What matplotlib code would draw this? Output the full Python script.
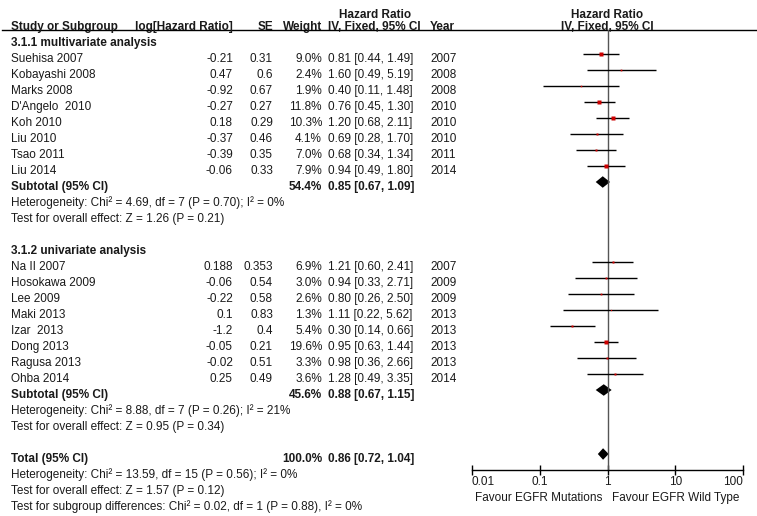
import matplotlib
matplotlib.use("Agg")
import matplotlib.pyplot as plt
import numpy as np

plt.rcParams['font.family'] = ['Liberation Sans', 'DejaVu Sans']

# --- data ---
studies1 = ["Suehisa 2007", "Kobayashi 2008", "Marks 2008", "D'Angelo  2010",
            "Koh 2010", "Liu 2010", "Tsao 2011", "Liu 2014"]
loghr1 = [-0.21, 0.47, -0.92, -0.27, 0.18, -0.37, -0.39, -0.06]
se1 = [0.31, 0.6, 0.67, 0.27, 0.29, 0.46, 0.35, 0.33]
weight1 = [9.0, 2.4, 1.9, 11.8, 10.3, 4.1, 7.0, 7.9]
hr1 = [0.81, 1.60, 0.40, 0.76, 1.20, 0.69, 0.68, 0.94]
lo1 = [0.44, 0.49, 0.11, 0.45, 0.68, 0.28, 0.34, 0.49]
hi1 = [1.49, 5.19, 1.48, 1.30, 2.11, 1.70, 1.34, 1.80]
year1 = [2007, 2008, 2008, 2010, 2010, 2010, 2011, 2014]

studies2 = ["Na II 2007", "Hosokawa 2009", "Lee 2009", "Maki 2013",
            "Izar  2013", "Dong 2013", "Ragusa 2013", "Ohba 2014"]
loghr2 = [0.188, -0.06, -0.22, 0.1, -1.2, -0.05, -0.02, 0.25]
se2 = [0.353, 0.54, 0.58, 0.83, 0.4, 0.21, 0.51, 0.49]
weight2 = [6.9, 3.0, 2.6, 1.3, 5.4, 19.6, 3.3, 3.6]
hr2 = [1.21, 0.94, 0.80, 1.11, 0.30, 0.95, 0.98, 1.28]
lo2 = [0.60, 0.33, 0.26, 0.22, 0.14, 0.63, 0.36, 0.49]
hi2 = [2.41, 2.71, 2.50, 5.62, 0.66, 1.44, 2.66, 3.35]
year2 = [2007, 2009, 2009, 2013, 2013, 2013, 2013, 2014]

# pooled estimates: weight, HR, lower, upper
sub1 = (54.4, 0.85, 0.67, 1.09)
sub2 = (45.6, 0.88, 0.67, 1.15)
total = (100.0, 0.86, 0.72, 1.04)

group_titles = ["3.1.1 multivariate analysis", "3.1.2 univariate analysis"]
stats1 = ["Heterogeneity: Chi\u00b2 = 4.69, df = 7 (P = 0.70); I\u00b2 = 0%",
          "Test for overall effect: Z = 1.26 (P = 0.21)"]
stats2 = ["Heterogeneity: Chi\u00b2 = 8.88, df = 7 (P = 0.26); I\u00b2 = 21%",
          "Test for overall effect: Z = 0.95 (P = 0.34)"]
stats_total = ["Heterogeneity: Chi\u00b2 = 13.59, df = 15 (P = 0.56); I\u00b2 = 0%",
               "Test for overall effect: Z = 1.57 (P = 0.12)",
               "Test for subgroup differences: Chi\u00b2 = 0.02, df = 1 (P = 0.88), I\u00b2 = 0%"]

xticks = [0.01, 0.1, 1, 10, 100]
favour_left = "Favour EGFR Mutations"
favour_right = "Favour EGFR Wild Type"

# --- layout (pixels) ---
W, H = 757, 516
ROW0, STEP = 38, 16          # pixel y of first row, row spacing
TXT = 5 / STEP               # text sits a bit below the marker line
FS = 8.5
INK = "#1a1a1a"
RED = "#cc0000"

fig = plt.figure(figsize=(W / 100, H / 100), dpi=100)
tab = fig.add_axes([0, 0, 1, 1])
tab.set_xlim(0, W)
tab.set_ylim((H - ROW0) / STEP, -ROW0 / STEP)
tab.axis("off")

px_l, px_r, px_t, px_b = 472, 743, 30, 470
ax = fig.add_axes([px_l / W, 1 - px_b / H, (px_r - px_l) / W, (px_b - px_t) / H])
ax.set_xscale("log")
ax.set_xlim(0.01, 100)
ax.set_ylim((px_b - ROW0) / STEP, (px_t - ROW0) / STEP)
ax.patch.set_alpha(0)
for s in ["top", "left", "right"]:
    ax.spines[s].set_visible(False)
ax.spines["bottom"].set_linewidth(1)
ax.set_yticks([])
ax.set_xticks(xticks)
ax.set_xticklabels(["0.01", "0.1", "1", "10", "100"], fontsize=FS, color=INK)
ax.minorticks_off()
ax.tick_params(axis="x", direction="inout", length=7, width=1, pad=1)
labs = ax.get_xticklabels()
labs[0].set_ha("left")
labs[-1].set_ha("right")
ax.axvline(1, color="#555555", lw=1)

# header
COL_NAME, COL_LOG, COL_SE, COL_W, COL_CI, COL_YR = 11, 233, 273, 322, 328, 430
hy1, hy2 = (15 - ROW0) / STEP, (27 - ROW0) / STEP
tab.plot([2, W], [(30 - ROW0) / STEP] * 2, color="black", lw=1)
bold = dict(fontsize=FS, color=INK, fontweight="bold", va="center")
tab.text(COL_NAME, hy2, "Study or Subgroup", ha="left", **bold)
tab.text(COL_LOG, hy2, "log[Hazard Ratio]", ha="right", **bold)
tab.text(COL_SE, hy2, "SE", ha="right", **bold)
tab.text(COL_W, hy2, "Weight", ha="right", **bold)
tab.text(COL_CI, hy2, "IV, Fixed, 95% CI", ha="left", **bold)
tab.text(375, hy1, "Hazard Ratio", ha="center", **bold)
tab.text(COL_YR, hy2, "Year", ha="left", **bold)
tab.text(607, hy1, "Hazard Ratio", ha="center", **bold)
tab.text(607, hy2, "IV, Fixed, 95% CI", ha="center", **bold)

norm = dict(fontsize=FS, color=INK, va="center")


def draw_group(r0, title, names, lg, se, w, hr, lo, hi, yr, sub, stats):
    tab.text(COL_NAME, r0 + TXT, title, ha="left", **bold)
    for i in range(len(names)):
        r = r0 + 1 + i
        y = r + TXT
        tab.text(COL_NAME, y, names[i], ha="left", **norm)
        tab.text(COL_LOG, y, str(lg[i]), ha="right", **norm)
        tab.text(COL_SE, y, str(se[i]), ha="right", **norm)
        tab.text(COL_W, y, f"{w[i]:.1f}%", ha="right", **norm)
        tab.text(COL_CI, y, f"{hr[i]:.2f} [{lo[i]:.2f}, {hi[i]:.2f}]", ha="left", **norm)
        tab.text(COL_YR, y, str(yr[i]), ha="left", **norm)
        ax.hlines(r, lo[i], hi[i], color="black", lw=1)
        ax.plot(hr[i], r, marker="s", ms=0.79 * np.sqrt(w[i]), color=RED, mec="none")
    r = r0 + 1 + len(names)
    draw_pooled(r, "Subtotal (95% CI)", sub)
    for j, s in enumerate(stats):
        tab.text(COL_NAME, r + 1 + j + TXT, s, ha="left", **norm)


def draw_pooled(r, label, pooled):
    w, est, lo, hi = pooled
    tab.text(COL_NAME, r + TXT, label, ha="left", **bold)
    tab.text(COL_W, r + TXT, f"{w:.1f}%", ha="right", **bold)
    tab.text(COL_CI, r + TXT, f"{est:.2f} [{lo:.2f}, {hi:.2f}]", ha="left", **bold)
    ax.fill([lo, est, hi, est], [r, r - 0.36, r, r + 0.36], color="black", lw=0)


draw_group(0, group_titles[0], studies1, loghr1, se1, weight1, hr1, lo1, hi1, year1, sub1, stats1)
draw_group(13, group_titles[1], studies2, loghr2, se2, weight2, hr2, lo2, hi2, year2, sub2, stats2)
draw_pooled(26, "Total (95% CI)", total)
for j, s in enumerate(stats_total):
    tab.text(COL_NAME, 27 + j + TXT, s, ha="left", **norm)

fy = (498 - ROW0) / STEP
tab.text(602, fy, favour_left, ha="right", **norm)
tab.text(612, fy, favour_right, ha="left", **norm)

fig.savefig("out.png", dpi=100, facecolor="white")
